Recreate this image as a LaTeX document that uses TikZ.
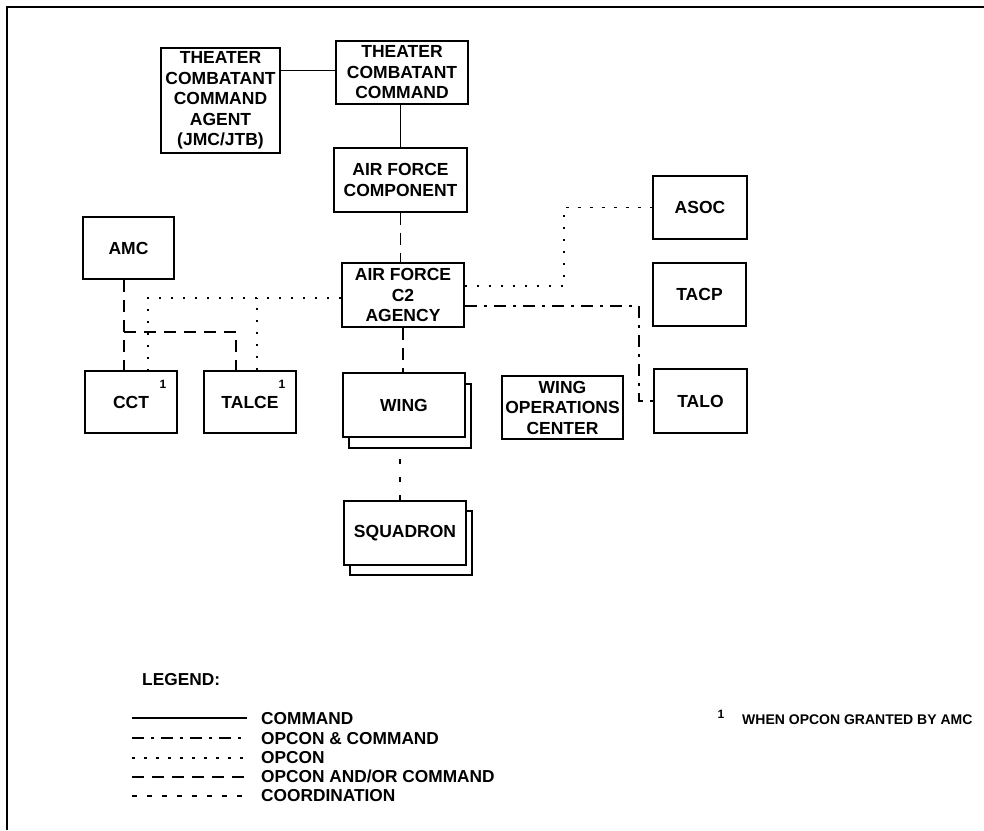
\documentclass[tikz,border=0pt]{standalone}
\usepackage{fontspec}
\setmainfont{Liberation Sans}
\begin{document}
\begin{tikzpicture}[x=1pt,y=-1pt,
  box/.style={draw, line width=1.9pt, fill=white, align=center, inner sep=0pt,
    font=\bfseries\fontsize{17.5}{20.5}\selectfont},
  shadowbox/.style={draw, line width=1.9pt, fill=white, inner sep=0pt},
  sup/.style={font=\bfseries\fontsize{12}{13}\selectfont, inner sep=0pt},
  legtext/.style={font=\bfseries\fontsize{17.3}{20}\selectfont, inner sep=0pt, anchor=base west},
  command/.style={line width=1.9pt},
  opconcmd/.style={line width=1.9pt, dash pattern=on 12pt off 7pt on 3pt off 7pt},
  opcon/.style={line width=1.9pt, dash pattern=on 2.5pt off 9.5pt},
  opconor/.style={line width=1.9pt, dash pattern=on 12pt off 8pt},
  coord/.style={line width=1.9pt, dash pattern=on 5pt off 10pt}]
\useasboundingbox (0,0) rectangle (984,830);
% frame
\coordinate (f0) at (7,7);
\coordinate (f1) at (984,7);
\coordinate (f2) at (7,830);
\draw[line width=2pt] (f2) -- (f0) -- (f1);
% boxes
\node[box, minimum width=119pt, minimum height=105pt] (agent) at (220.5,100.5) {THEATER\\COMBATANT\\COMMAND\\AGENT\\(JMC/JTB)};
\node[box, minimum width=132pt, minimum height=63pt] (tcc) at (402,72.5) {THEATER\\COMBATANT\\COMMAND};
\node[box, minimum width=133pt, minimum height=64pt] (afc) at (400.5,180) {AIR FORCE\\COMPONENT};
\node[box, minimum width=91pt, minimum height=62pt] (amc) at (128.5,248) {AMC};
\node[box, minimum width=122pt, minimum height=64pt] (c2) at (403,295) {AIR FORCE\\C2\\AGENCY};
\node[box, minimum width=92pt, minimum height=62pt] (cct) at (131,402) {CCT};
\node[box, minimum width=92pt, minimum height=62pt] (talce) at (250,402) {TALCE};
\node[sup] (s1) at (163,384) {1};
\node[sup] (s2) at (282,384) {1};
\node[shadowbox, minimum width=122pt, minimum height=64pt] (wings) at (410,416) {};
\node[box, minimum width=122pt, minimum height=64pt] (wing) at (404,405) {WING};
\node[shadowbox, minimum width=122pt, minimum height=64pt] (squads) at (411,543) {};
\node[box, minimum width=122pt, minimum height=64pt] (squad) at (405,533) {SQUADRON};
\node[box, minimum width=121pt, minimum height=63pt] (woc) at (562.5,407.5) {WING\\OPERATIONS\\CENTER};
\node[box, minimum width=94pt, minimum height=63pt] (asoc) at (700,207.5) {ASOC};
\node[box, minimum width=93pt, minimum height=63pt] (tacp) at (699.5,294.5) {TACP};
\node[box, minimum width=93pt, minimum height=64pt] (talo) at (700.5,401) {TALO};
% connectors
\draw[command] ([yshift=2pt]tcc.west) -- ([yshift=2pt]tcc.west -| agent.east);
\draw[command] (afc.north) -- (afc.north |- tcc.south);
\draw[opconor] (afc.south) -- (afc.south |- c2.north);
\draw[opconor] (c2.south) -- (c2.south |- wing.north);
\draw[coord, dash pattern=on 5pt off 13pt] ([xshift=-5pt]squad.north) -- ([xshift=-5pt]squad.north |- wings.south);
\draw[opcon] ([yshift=9pt]c2.east) -- ++(99,0) |- (asoc.west);
\draw[opconcmd] ([yshift=-11pt]c2.east) -- ++(174,0) |- (talo.west);
\coordinate (lj) at ([yshift=-3pt]c2.west);
\draw[opcon] (lj) -| ([xshift=17pt]cct.north);
\draw[opcon] ([xshift=7pt]talce.north) -- ([xshift=7pt]talce.north |- lj);
\draw[opconor] ([xshift=-4.5pt]amc.south) -- ([xshift=-4.5pt]amc.south |- cct.north);
\coordinate (amcj) at (124,332);
\draw[opconor] (amcj) -| ([xshift=-14pt]talce.north);
% legend
\node[legtext] (leg) at (142,685) {LEGEND:};
\node[legtext] (t1) at (261,724) {COMMAND};
\node[legtext] (t2) at (261,744) {OPCON \& COMMAND};
\node[legtext] (t3) at (261,763) {OPCON};
\node[legtext] (t4) at (261,782) {OPCON AND/OR COMMAND};
\node[legtext] (t5) at (261,801.5) {COORDINATION};
\draw[command] (132,718) -- (247,718);
\draw[opconcmd] (132,738) -- (247,738);
\draw[opcon] (132,758) -- (247,758);
\draw[opconor] (132,777) -- (247,777);
\draw[coord] (132,796) -- (247,796);
\node[sup] (fn1) at (721,714) {1};
\node[legtext, font=\bfseries\fontsize{14}{17}\selectfont] (fn) at (742,724) {WHEN OPCON GRANTED BY AMC};
\end{tikzpicture}
\end{document}
